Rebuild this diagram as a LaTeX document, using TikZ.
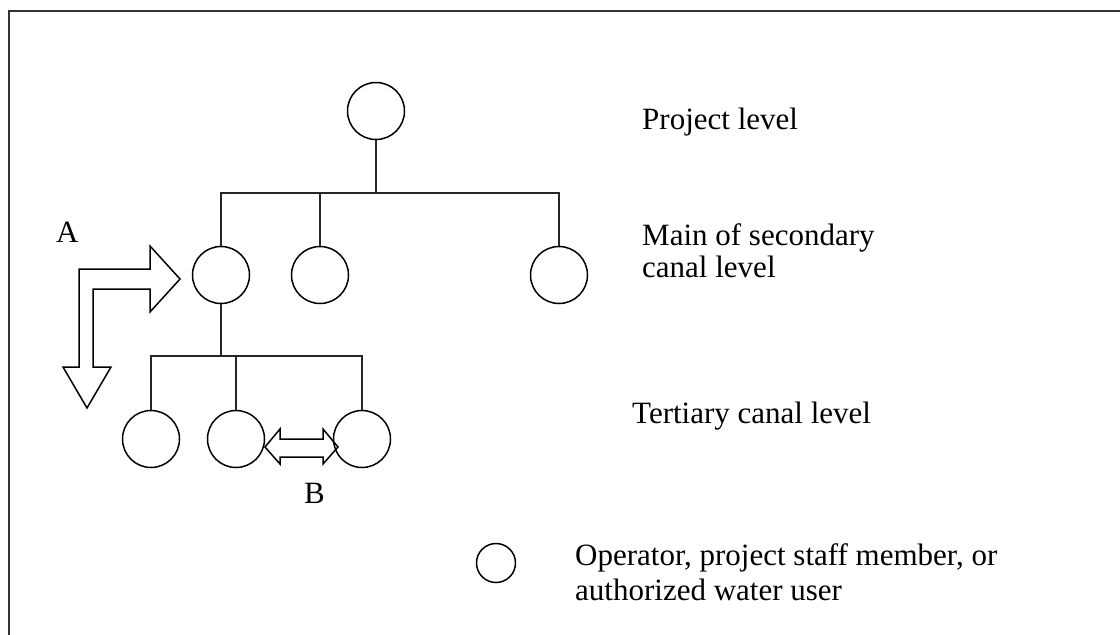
\documentclass[tikz,border=0pt]{standalone}
\usepackage{fontspec}
\setmainfont{Liberation Serif}
\begin{document}
\begin{tikzpicture}[x=1pt,y=-1pt,
  pc/.style={circle,draw,line width=1.5pt,minimum size=57pt,inner sep=0pt},
  legc/.style={circle,draw,line width=1.5pt,minimum size=39pt,inner sep=0pt},
  conn/.style={line width=1.5pt,draw=black!85},
  bigarrow/.style={line width=1.5pt,line join=miter},
  lbl/.style={anchor=base west,inner sep=0pt,font=\fontsize{31}{31}\selectfont},
  frameline/.style={line width=2pt,draw=black!80}]
\useasboundingbox (0,0) rectangle (1120,635);
% frame (only top and left edges are visible)
\draw[frameline] (9,660) -- (9,11) -- (1140,11);
% nodes
\node[pc] (P) at (376,111) {};
\node[pc] (M1) at (221,275) {};
\node[pc] (M2) at (320,275) {};
\node[pc] (M3) at (559,275) {};
\node[pc] (T1) at (151,439) {};
\node[pc] (T2) at (236,439) {};
\node[pc] (T3) at (362,439) {};
\node[legc] (L) at (496,563) {};
\coordinate (b1) at (376,193);
\coordinate (b2) at (221,356);
% connectors
\draw[conn] (P) -- (b1);
\draw[conn] (M1.north) |- (b1);
\draw[conn] (M3.north) |- (b1);
\draw[conn] (M2.north) -- (M2.north |- b1);
\draw[conn] (M1) -- (b2);
\draw[conn] (T1.north) |- (b2);
\draw[conn] (T3.north) |- (b2);
\draw[conn] (T2.north) -- (T2.north |- b2);
% arrow A
\draw[bigarrow] (79,269) -- (150,269) -- (150,246) -- (180,279) -- (150,312) -- (150,289)
  -- (93,289) -- (93,367) -- (111,367) -- (87,408) -- (63,367) -- (79,367) -- cycle;
% arrow B
\draw[bigarrow] (265,447) -- (280,429) -- (280,439) -- (323,439) -- (323,429) -- (338,447)
  -- (323,464) -- (323,457) -- (280,457) -- (280,464) -- cycle;
% labels
\node[lbl] (tA) at (56,242) {A};
\node[lbl] (tB) at (304,503) {B};
\node[lbl] (t1) at (642,129) {Project level};
\node[lbl] (t2a) at (642,245) {Main of secondary};
\node[lbl] (t2b) at (642,277) {canal level};
\node[lbl] (t3) at (632,423) {Tertiary canal level};
\node[lbl] (t4a) at (575,565) {Operator, project staff member, or};
\node[lbl] (t4b) at (575,600) {authorized water user};
\end{tikzpicture}
\end{document}
